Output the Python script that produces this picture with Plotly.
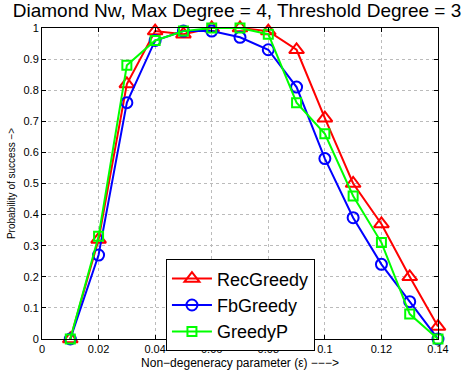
import plotly.graph_objects as go

eps = [0.01, 0.02, 0.03, 0.04, 0.05, 0.06, 0.07, 0.08, 0.09, 0.10, 0.11, 0.12, 0.13, 0.14]
rec_greedy = [0.0, 0.32, 0.82, 0.99, 0.98, 1.0, 1.0, 0.99, 0.93, 0.71, 0.50, 0.37, 0.20, 0.04]
fb_greedy = [0.0, 0.27, 0.76, 0.96, 0.99, 0.99, 0.97, 0.93, 0.81, 0.58, 0.39, 0.24, 0.12, 0.0]
greedy_p = [0.0, 0.33, 0.88, 0.96, 0.99, 1.0, 1.0, 0.98, 0.76, 0.66, 0.46, 0.31, 0.08, 0.0]

x_ticks = [0, 0.02, 0.04, 0.06, 0.08, 0.1, 0.12, 0.14]
x_tick_text = ["0", "0.02", "0.04", "0.06", "0.08", "0.1", "0.12", "0.14"]
y_ticks = [0, 0.1, 0.2, 0.3, 0.4, 0.5, 0.6, 0.7, 0.8, 0.9, 1]
y_tick_text = ["0", "0.1", "0.2", "0.3", "0.4", "0.5", "0.6", "0.7", "0.8", "0.9", "1"]

FONT = "Liberation Sans, Arial, sans-serif"

fig = go.Figure()
fig.add_trace(go.Scatter(
    x=eps, y=rec_greedy, name="RecGreedy", mode="lines+markers",
    line=dict(color="#ff0000", width=2),
    marker=dict(symbol="triangle-up-open", size=13, color="#ff0000", line=dict(width=2, color="#ff0000")),
    cliponaxis=False,
))
fig.add_trace(go.Scatter(
    x=eps, y=fb_greedy, name="FbGreedy", mode="lines+markers",
    line=dict(color="#0000ff", width=2),
    marker=dict(symbol="circle-open", size=11, color="#0000ff", line=dict(width=2, color="#0000ff")),
    cliponaxis=False,
))
fig.add_trace(go.Scatter(
    x=eps, y=greedy_p, name="GreedyP", mode="lines+markers",
    line=dict(color="#00ff00", width=2),
    marker=dict(symbol="square-open", size=9, color="#00ff00", line=dict(width=2, color="#00ff00")),
    cliponaxis=False,
))

axis_common = dict(
    showline=True, linecolor="black", linewidth=1, mirror="ticks",
    ticks="inside", ticklen=4, tickcolor="black",
    showgrid=True, gridcolor="#bbbbbb", griddash="dot", gridwidth=1,
    zeroline=False, automargin=False,
    tickfont=dict(family=FONT, size=11, color="black"),
)

fig.update_layout(
    width=474, height=380,
    paper_bgcolor="white", plot_bgcolor="white",
    hovermode=False,
    margin=dict(l=42, r=36, t=28, b=41),
    title=dict(
        text="Diamond Nw, Max Degree = 4, Threshold Degree = 3",
        font=dict(family=FONT, size=19, color="black"),
        x=0.5, xanchor="center", xref="container",
        y=0.972, yanchor="middle", yref="container",
    ),
    xaxis=dict(
        range=[0, 0.14], tickvals=x_ticks, ticktext=x_tick_text,
        title=dict(text="Non\u2212degeneracy parameter (\u03b5) \u2212\u2212\u2212>",
                   font=dict(family=FONT, size=12, color="black"), standoff=4),
        **axis_common,
    ),
    yaxis=dict(
        range=[0, 1], tickvals=y_ticks, ticktext=y_tick_text,
        title=dict(text="Probability of success \u2212>",
                   font=dict(family=FONT, size=10, color="black"), standoff=6),
        **axis_common,
    ),
    legend=dict(
        x=0.313, y=0.256, xanchor="left", yanchor="top",
        bgcolor="white", bordercolor="black", borderwidth=1,
        font=dict(family=FONT, size=18, color="black"),
        itemwidth=40, tracegroupgap=0,
    ),
    showlegend=True,
)

fig.write_html("out.html", config={"displayModeBar": False},
               post_script="document.body.style.margin='0px';")
